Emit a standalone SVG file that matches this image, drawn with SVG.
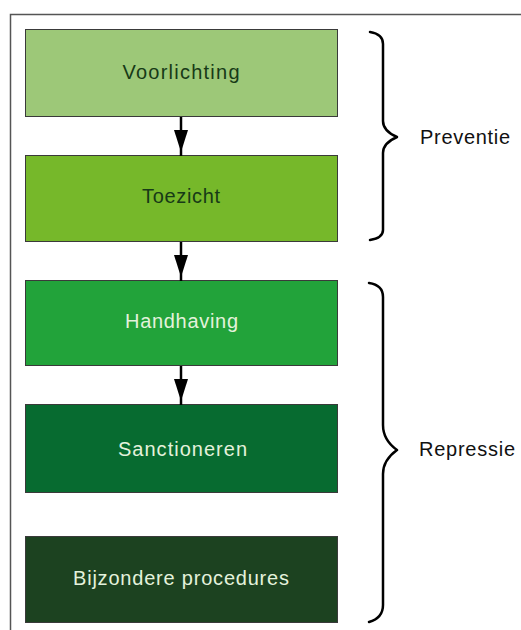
<svg xmlns="http://www.w3.org/2000/svg" width="521" height="630" viewBox="0 0 521 630">
<style>
.box{stroke:#3a3a3a;stroke-width:1}
.t{font-family:"Liberation Sans",Arial,sans-serif;font-size:20px;text-anchor:middle}
.dk{fill:#173a17}
.lt{fill:#e4f2dc}
.lbl{font-family:"Liberation Sans",Arial,sans-serif;font-size:20px;fill:#111}
.con{stroke:#000;stroke-width:2.5;fill:none}
.head{fill:#000}
.brace{stroke:#000;stroke-width:2.5;fill:none;stroke-linejoin:round;stroke-linecap:round}
</style>
<rect width="521" height="630" fill="#fff"/>
<path d="M10.5,630 V14.5 H521" fill="none" stroke="#555" stroke-width="1.5"/>
<g id="n1"><rect class="box" x="25.5" y="29.5" width="312" height="87" fill="#9dc878"/><text class="t dk" x="181" y="79" textLength="117" lengthAdjust="spacing">Voorlichting</text></g>
<g id="n2"><rect class="box" x="25.5" y="155.5" width="312" height="86" fill="#76b82a"/><text class="t dk" x="181" y="203" textLength="78" lengthAdjust="spacing">Toezicht</text></g>
<g id="n3"><rect class="box" x="25.5" y="280.5" width="312" height="85" fill="#22a33a"/><text class="t lt" x="181.5" y="328" textLength="113" lengthAdjust="spacing">Handhaving</text></g>
<g id="n4"><rect class="box" x="25.5" y="404.5" width="312" height="88" fill="#076b30"/><text class="t lt" x="182.5" y="456" textLength="129" lengthAdjust="spacing">Sanctioneren</text></g>
<g id="n5"><rect class="box" x="25.5" y="536.5" width="312" height="86" fill="#1c4220"/><text class="t lt" x="181" y="585" textLength="216" lengthAdjust="spacing">Bijzondere procedures</text></g>
<g id="connectors">
<line class="con" x1="181" y1="117" x2="181" y2="156"/><polygon class="head" points="174,130 188,130 181,152"/>
<line class="con" x1="181" y1="242" x2="181" y2="281"/><polygon class="head" points="174,255 188,255 181,277"/>
<line class="con" x1="181" y1="366" x2="181" y2="405"/><polygon class="head" points="174,379 188,379 181,401"/>
</g>
<g id="preventie">
<path class="brace" d="M370,32 Q383,34 383,44 V121 Q383,131 397,137 Q383,143 383,153 V230 Q383,238 370,240"/>
<text class="lbl" x="420" y="144" textLength="90" lengthAdjust="spacing">Preventie</text>
</g>
<g id="repressie">
<path class="brace" d="M369,283 Q383,285 383,297 V425 Q383,440 397,450 Q383,460 383,474 V605 Q383,618 369,622"/>
<text class="lbl" x="419" y="456" textLength="96" lengthAdjust="spacing">Repressie</text>
</g>
</svg>
